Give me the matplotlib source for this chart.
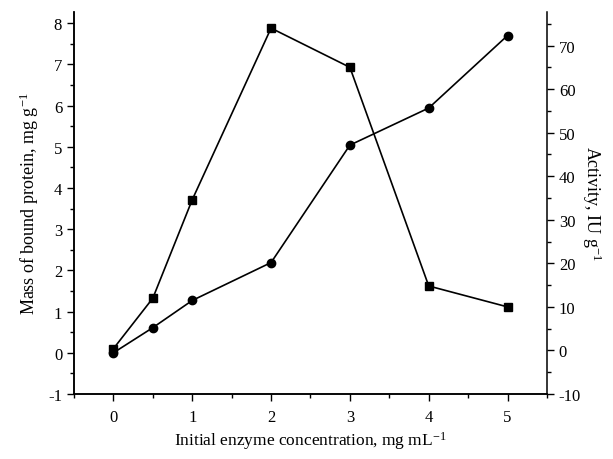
import numpy as np
import matplotlib
matplotlib.use("Agg")
import matplotlib.pyplot as plt
from matplotlib.ticker import MultipleLocator

# data
conc = [0, 0.5, 1, 2, 3, 4, 5]
bound_protein = [0.0, 0.61, 1.27, 2.19, 5.04, 5.94, 7.70]   # mg g-1, circles
activity = [0.4, 12.0, 34.6, 74.0, 65.0, 14.8, 10.0]        # IU g-1, squares

plt.rcParams['font.family'] = 'Liberation Serif'
plt.rcParams['mathtext.fontset'] = 'custom'
plt.rcParams['mathtext.rm'] = 'Liberation Serif'
plt.rcParams['mathtext.it'] = 'Liberation Serif:italic'
plt.rcParams['axes.unicode_minus'] = False

fig = plt.figure(figsize=(6.13, 4.6), dpi=100)
ax = fig.add_axes([0.1207, 0.1413, 0.7716, 0.8304])
ax2 = ax.twinx()

ax.plot(conc, bound_protein, 'k-o', lw=1.2, ms=6)
ax2.plot(conc, activity, 'k-s', lw=1.2, ms=5.5)

ax.set_xlim(-0.5, 5.5)
ax.set_ylim(-1, 8.27)
ax2.set_ylim(-10, 77.7)

ax.xaxis.set_major_locator(MultipleLocator(1))
ax.xaxis.set_minor_locator(MultipleLocator(0.5))
ax.yaxis.set_major_locator(MultipleLocator(1))
ax.yaxis.set_minor_locator(MultipleLocator(0.5))
ax2.yaxis.set_major_locator(MultipleLocator(10))
ax2.yaxis.set_minor_locator(MultipleLocator(5))

for a in (ax, ax2):
    a.spines['top'].set_visible(False)
    a.tick_params(which='major', direction='out', length=5, width=1, labelsize=12)
    a.tick_params(which='minor', direction='out', length=3, width=1)
    for s in a.spines.values():
        s.set_linewidth(1.1)
ax.spines['right'].set_visible(False)
ax.tick_params(axis='x', pad=6)

ax.set_xlabel('Initial enzyme concentration, mg mL$^{-1}$', fontsize=12.5, labelpad=3)
ax.set_ylabel('Mass of bound protein, mg g$^{-1}$', fontsize=13, labelpad=5)
ax2.set_ylabel('Activity, IU g$^{-1}$', fontsize=13, rotation=-90, labelpad=16)

fig.savefig('out.png', dpi=100)
